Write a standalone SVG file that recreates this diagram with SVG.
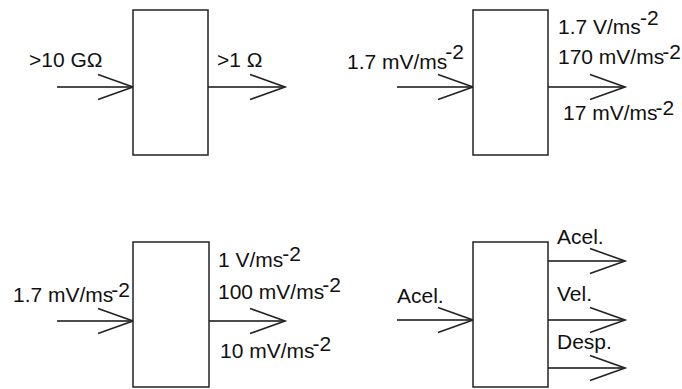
<svg xmlns="http://www.w3.org/2000/svg" width="682" height="389" viewBox="0 0 682 389">
<style>
.box{fill:#fff;stroke:#222;stroke-width:1.5}
.wire{stroke:#111;stroke-width:1.3;fill:none;marker-end:url(#arr)}
.lbl{font-family:"Liberation Sans",Arial,sans-serif;font-size:21px;fill:#111}
</style>
<defs>
<marker id="arr" markerUnits="userSpaceOnUse" markerWidth="40" markerHeight="30" viewBox="-30 -12 32 24" refX="0" refY="0" orient="auto" overflow="visible">
<path d="M-28,-10 L0,0 L-28,10" fill="none" stroke="#222" stroke-width="1.3"/>
</marker>
</defs>
<rect width="682" height="389" fill="#fff"/>
<g id="connectors">
<line class="wire" x1="57" y1="87" x2="133" y2="87" stroke="#555"/>
<line class="wire" x1="208" y1="87" x2="285" y2="87"/>
<line class="wire" x1="397" y1="87" x2="473" y2="87"/>
<line class="wire" x1="548" y1="87" x2="625" y2="87"/>
<line class="wire" x1="57" y1="321" x2="133" y2="321"/>
<line class="wire" x1="209" y1="321" x2="285" y2="321"/>
<line class="wire" x1="397" y1="320" x2="473" y2="320"/>
<line class="wire" x1="548" y1="261" x2="625" y2="261"/>
<line class="wire" x1="548" y1="320" x2="625" y2="320"/>
<line class="wire" x1="548" y1="368" x2="625" y2="368"/>
</g>
<g id="node1">
<rect class="box" x="133" y="10" width="75" height="145"/>
<text class="lbl" x="29" y="67">&gt;10 GΩ</text>
<text class="lbl" x="217" y="67">&gt;1 Ω</text>
</g>
<g id="node2">
<rect class="box" x="473" y="10" width="75" height="145"/>
<text class="lbl" x="347" y="69">1.7 mV/ms<tspan dx="-2" dy="-10">-</tspan><tspan>2</tspan></text>
<text class="lbl" x="558" y="34">1.7 V/ms<tspan dx="-1" dy="-9">-</tspan><tspan>2</tspan></text>
<text class="lbl" x="558" y="64">170 mV/ms<tspan dx="-2" dy="-5">-</tspan><tspan>2</tspan></text>
<text class="lbl" x="563" y="120">17 mV/ms<tspan dx="-2" dy="-5">-</tspan><tspan>2</tspan></text>
</g>
<g id="node3">
<rect class="box" x="133" y="242" width="76" height="145"/>
<text class="lbl" x="13" y="302">1.7 mV/ms<tspan dx="-2" dy="-5">-</tspan><tspan>2</tspan></text>
<text class="lbl" x="218" y="267">1 V/ms<tspan dx="-1" dy="-6">-</tspan><tspan>2</tspan></text>
<text class="lbl" x="218" y="299">100 mV/ms<tspan dx="-2" dy="-7">-</tspan><tspan>2</tspan></text>
<text class="lbl" x="220" y="358">10 mV/ms<tspan dx="-2" dy="-7">-</tspan><tspan>2</tspan></text>
</g>
<g id="node4">
<rect class="box" x="473" y="242" width="75" height="145"/>
<text class="lbl" x="397" y="303">Acel.</text>
<text class="lbl" x="557" y="244">Acel.</text>
<text class="lbl" x="557" y="301">Vel.</text>
<text class="lbl" x="557" y="349">Desp.</text>
</g>
</svg>
